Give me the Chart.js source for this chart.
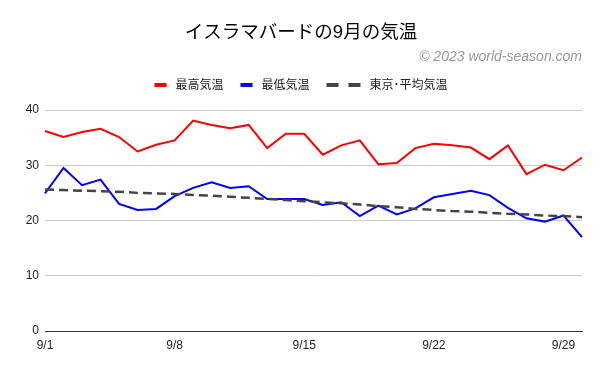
<!DOCTYPE html>
<html>
<head>
<meta charset="utf-8">
<script src="https://cdn.jsdelivr.net/npm/chart.js@4"></script>
<style>
  html, body { margin: 0; padding: 0; background: #fff; }
  #wrap { width: 600px; height: 371px; }
</style>
</head>
<body>
<div id="wrap"><canvas id="chart" width="600" height="371"></canvas></div>
<script>
// -------- データ --------
const days = [];
for (let d = 1; d <= 30; d++) days.push('9/' + d);

const maxTemps = [36.2,35.1,36.0,36.6,35.1,32.5,33.7,34.5,38.1,37.3,36.7,37.3,33.1,35.7,35.7,
                  31.9,33.6,34.5,30.2,30.4,33.1,33.9,33.6,33.2,31.1,33.6,28.4,30.1,29.1,31.4];
const minTemps = [24.9,29.5,26.4,27.4,23.0,21.9,22.1,24.4,25.9,26.9,25.9,26.2,23.9,23.9,23.9,
                  22.8,23.3,20.8,22.7,21.1,22.2,24.2,24.8,25.4,24.6,22.3,20.4,19.8,20.9,17.0];
const tokyoAvg = [25.6,25.5,25.4,25.3,25.2,25.0,24.9,24.8,24.6,24.5,24.3,24.1,23.9,23.7,23.5,
                  23.3,23.1,22.9,22.6,22.4,22.1,21.9,21.7,21.6,21.4,21.2,21.1,20.9,20.8,20.6];

const seriesNames = ['最高気温', '最低気温', '東京･平均気温'];
const yTicks = [0, 10, 20, 30, 40];

const FONT = '"Liberation Sans", Arial, "Noto Sans CJK JP", sans-serif';

// -------- 凡例（手描き） --------
const legendPlugin = {
    id: 'customLegend',
    afterDraw(chart){
        const ctx = chart.ctx;
        const items = chart.data.datasets.map(ds => ({
            text: ds.label, color: ds.borderColor, dash: ds.borderDash && ds.borderDash.length > 0
        }));
        ctx.save();
        ctx.font = '12px ' + FONT;
        const gapText = 9, gapItem = 17;
        const widths = items.map(it => (it.dash ? 34 : 12) + gapText + ctx.measureText(it.text).width);
        const total = widths.reduce((a,b)=>a+b,0) + gapItem*(items.length-1);
        let x = 301 - total/2;
        const y = 85;
        items.forEach((it, i) => {
            ctx.fillStyle = it.color;
            if(it.dash){
                ctx.fillRect(x, y-2, 12, 4);
                ctx.fillRect(x+22, y-2, 12, 4);
            } else {
                ctx.fillRect(x, y-2, 12, 4);
            }
            const mw = it.dash ? 34 : 12;
            ctx.fillStyle = '#222';
            ctx.textBaseline = 'middle';
            ctx.textAlign = 'left';
            ctx.fillText(it.text, x + mw + gapText, y + 1);
            x += widths[i] + gapItem;
        });
        ctx.restore();
    }
};

new Chart(document.getElementById('chart'), {
    type: 'line',
    data: {
        labels: days,
        datasets: [
            { label: seriesNames[0], data: maxTemps, borderColor: '#ff0000', borderWidth: 2, order: 3 },
            { label: seriesNames[1], data: minTemps, borderColor: '#0000ff', borderWidth: 2, order: 2 },
            { label: seriesNames[2], data: tokyoAvg, borderColor: '#444444', borderWidth: 2.5,
              borderDash: [9, 5], order: 1 }
        ]
    },
    options: {
        responsive: false,
        animation: false,
        layout: { padding: { left: 20, right: 18, top: 0, bottom: 18 } },
        elements: {
            point: { radius: 0, hoverRadius: 0 },
            line: { tension: 0, fill: false }
        },
        plugins: {
            legend: { display: false },
            tooltip: { enabled: false },
            title: {
                display: true,
                text: 'イスラマバードの9月の気温',
                color: '#000',
                font: { family: FONT, size: 18.5, weight: 'normal' },
                padding: { top: 22, bottom: 5 }
            },
            subtitle: {
                display: true,
                text: '© 2023 world-season.com',
                align: 'end',
                color: '#999',
                font: { family: FONT, size: 14, style: 'italic' },
                padding: { top: 0, bottom: 44 }
            }
        },
        scales: {
            x: {
                offset: false,
                grid: { display: false, drawTicks: false },
                border: { display: true, color: '#333', width: 1 },
                ticks: {
                    autoSkip: false, maxRotation: 0, padding: 7,
                    color: '#222', font: { family: FONT, size: 12 },
                    callback: function(v, i){ return i % 7 === 0 ? days[i] : ''; }
                },
                afterFit: s => { s.height = 22; }
            },
            y: {
                min: yTicks[0], max: yTicks[yTicks.length-1],
                afterBuildTicks: s => { s.ticks = yTicks.map(v => ({ value: v })); },
                grid: {
                    drawTicks: false,
                    color: c => c.tick && c.tick.value === 0 ? '#333' : '#cccccc'
                },
                border: { display: false },
                ticks: { padding: 6, color: '#222', font: { family: FONT, size: 12 } },
                afterFit: s => { s.width = 25; }
            }
        }
    },
    plugins: [legendPlugin]
});
</script>
</body>
</html>
